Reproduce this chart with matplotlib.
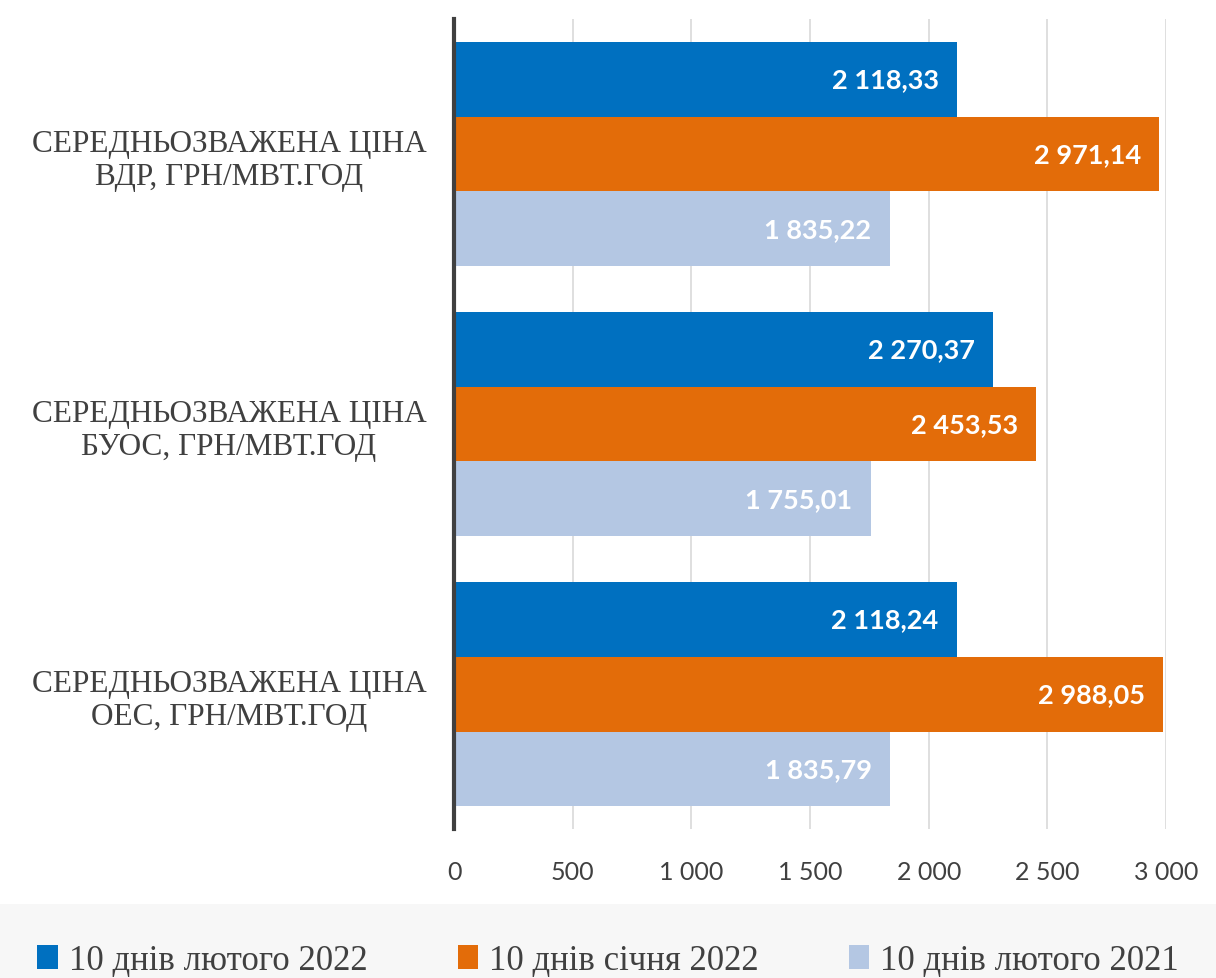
import matplotlib.pyplot as plt
import numpy as np
from matplotlib.patches import Rectangle, Patch
from matplotlib.ticker import FuncFormatter

# дані
categories = ['СЕРЕДНЬОЗВАЖЕНА ЦІНА\nВДР, ГРН/МВТ.ГОД',
              'СЕРЕДНЬОЗВАЖЕНА ЦІНА\nБУОС, ГРН/МВТ.ГОД',
              'СЕРЕДНЬОЗВАЖЕНА ЦІНА\nОЕС, ГРН/МВТ.ГОД']
series_names = ['10 днів лютого 2022', '10 днів січня 2022', '10 днів лютого 2021']
feb_2022 = [2118.33, 2270.37, 2118.24]
jan_2022 = [2971.14, 2453.53, 2988.05]
feb_2021 = [1835.22, 1755.01, 1835.79]
colors = ['#0070C0', '#E36C09', '#B4C7E3']

fig = plt.figure(figsize=(12.16, 9.79), dpi=100)
fig.patches.append(Rectangle((0, 0), 1, 0.076, transform=fig.transFigure,
                             facecolor='#f7f7f7', edgecolor='none', zorder=0))
ax = fig.add_axes([0.3734, 0.152, 0.5855, 0.8276])

y = np.arange(len(categories))
h = 0.277
all_series = [feb_2022, jan_2022, feb_2021]
for i, vals in enumerate(all_series):
    pos = y + (i - 1) * h
    bars = ax.barh(pos, vals, height=h, color=colors[i], zorder=3)
    for b, v in zip(bars, vals):
        txt = f'{v:,.2f}'.replace(',', ' ').replace('.', ',')
        ax.annotate(txt, (v, b.get_y() + h / 2), xytext=(-13, 0), textcoords='offset points',
                    ha='right', va='center', color='white', fontsize=19.5,
                    fontweight='bold', family='Lato', zorder=4)

ax.set_xlim(0, 3000)
ax.set_ylim(2.5, -0.5)
ax.set_xticks(np.arange(0, 3001, 500))
ax.xaxis.set_major_formatter(FuncFormatter(lambda v, p: f'{int(v):,}'.replace(',', ' ')))
ax.set_yticks(y)
ax.set_yticklabels(categories, family='Liberation Serif', fontsize=22.5, color='#404040',
                   multialignment='center')
ax.tick_params(axis='y', length=0, pad=20)
ax.tick_params(axis='x', length=0, pad=22, labelsize=18, labelcolor='#404040')
for t in ax.get_xticklabels():
    t.set_family('Lato')
ax.grid(axis='x', color='#d9d9d9', linewidth=1.2, zorder=0)
for s in ['top', 'right', 'bottom']:
    ax.spines[s].set_visible(False)
ax.spines['left'].set_color('#404040')
ax.spines['left'].set_linewidth(3)
ax.spines['left'].set_zorder(5)

handles = [Patch(facecolor=c, edgecolor='none') for c in colors]
leg = fig.legend(handles, series_names, loc='center', bbox_to_anchor=(0.5, 0.018), ncol=3,
                 frameon=False, prop={'family': 'Liberation Serif', 'size': 25},
                 handlelength=0.6, handleheight=0.7, handletextpad=0.3, columnspacing=2.6)
for t in leg.get_texts():
    t.set_color('#404040')

fig.savefig('out.png', dpi=100)
